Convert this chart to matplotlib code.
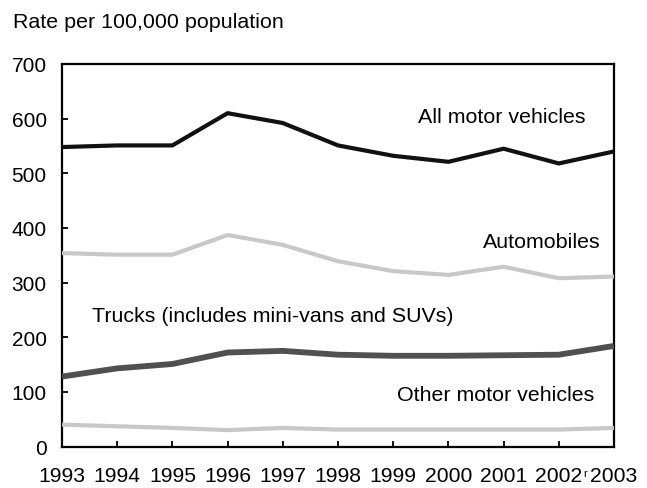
import matplotlib
matplotlib.use("Agg")
import matplotlib.pyplot as plt
from matplotlib import font_manager

years = [1993, 1994, 1995, 1996, 1997, 1998, 1999, 2000, 2001, 2002, 2003]
year_labels = ["1993", "1994", "1995", "1996", "1997", "1998", "1999", "2000", "2001", "2002", "2003"]
all_motor = [548, 551, 551, 610, 592, 551, 532, 521, 545, 518, 540]
automobiles = [354, 351, 351, 387, 369, 339, 321, 314, 329, 308, 311]
trucks = [128, 143, 151, 172, 175, 168, 166, 166, 167, 168, 184]
other = [40, 37, 34, 30, 34, 31, 31, 31, 31, 31, 34]
y_ticks = [0, 100, 200, 300, 400, 500, 600, 700]

names = set(font_manager.get_font_names())
base = "Liberation Sans" if "Liberation Sans" in names else "DejaVu Sans"
plt.rcParams["font.family"] = [base, "DejaVu Sans"]

W, H = 647, 489
fig = plt.figure(figsize=(W / 100, H / 100), dpi=100)
L, R, T, B = 62, 614, 65, 447.5
ax = fig.add_axes([L / W, 1 - B / H, (R - L) / W, (B - T) / H])

ax.plot(years, other, color="#c8c8c8", lw=3.0, solid_capstyle="butt", zorder=3)
ax.plot(years, trucks, color="#505050", lw=4.2, solid_capstyle="butt", zorder=3)
ax.plot(years, automobiles, color="#c8c8c8", lw=3.0, solid_capstyle="butt", zorder=3)
ax.plot(years, all_motor, color="#111111", lw=3.0, solid_capstyle="butt", zorder=3)

ax.set_xlim(years[0], years[-1])
ax.set_ylim(0, 700)
ax.set_yticks(y_ticks)
ax.set_yticklabels([str(v) for v in y_ticks], fontsize=15)
ax.set_xticks(years)
ax.set_xticklabels(year_labels, fontsize=15.2)
ax.tick_params(axis="both", direction="in", length=4.5, width=1.3, color="black")
ax.tick_params(axis="x", pad=14)
ax.tick_params(axis="y", pad=11)
for s in ax.spines.values():
    s.set_linewidth(1.6)
    s.set_color("black")

def ftext(x, y, s, **kw):
    fig.text(x / W, 1 - y / H, s, **kw)

ftext(13, 28.3, "Rate per 100,000 population", fontsize=15.4, va="baseline", ha="left")
ftext(418, 123.3, "All motor vehicles", fontsize=15.4, va="baseline", ha="left")
ftext(482.7, 248.3, "Automobiles", fontsize=15.4, va="baseline", ha="left")
ftext(91.7, 321.7, "Trucks (includes mini-vans and SUVs)", fontsize=15.4, va="baseline", ha="left")
ftext(396.7, 400.7, "Other motor vehicles", fontsize=15.4, va="baseline", ha="left")
ftext(583, 469, "r", fontsize=8, va="top", ha="left")

fig.savefig("out.png", dpi=100)
